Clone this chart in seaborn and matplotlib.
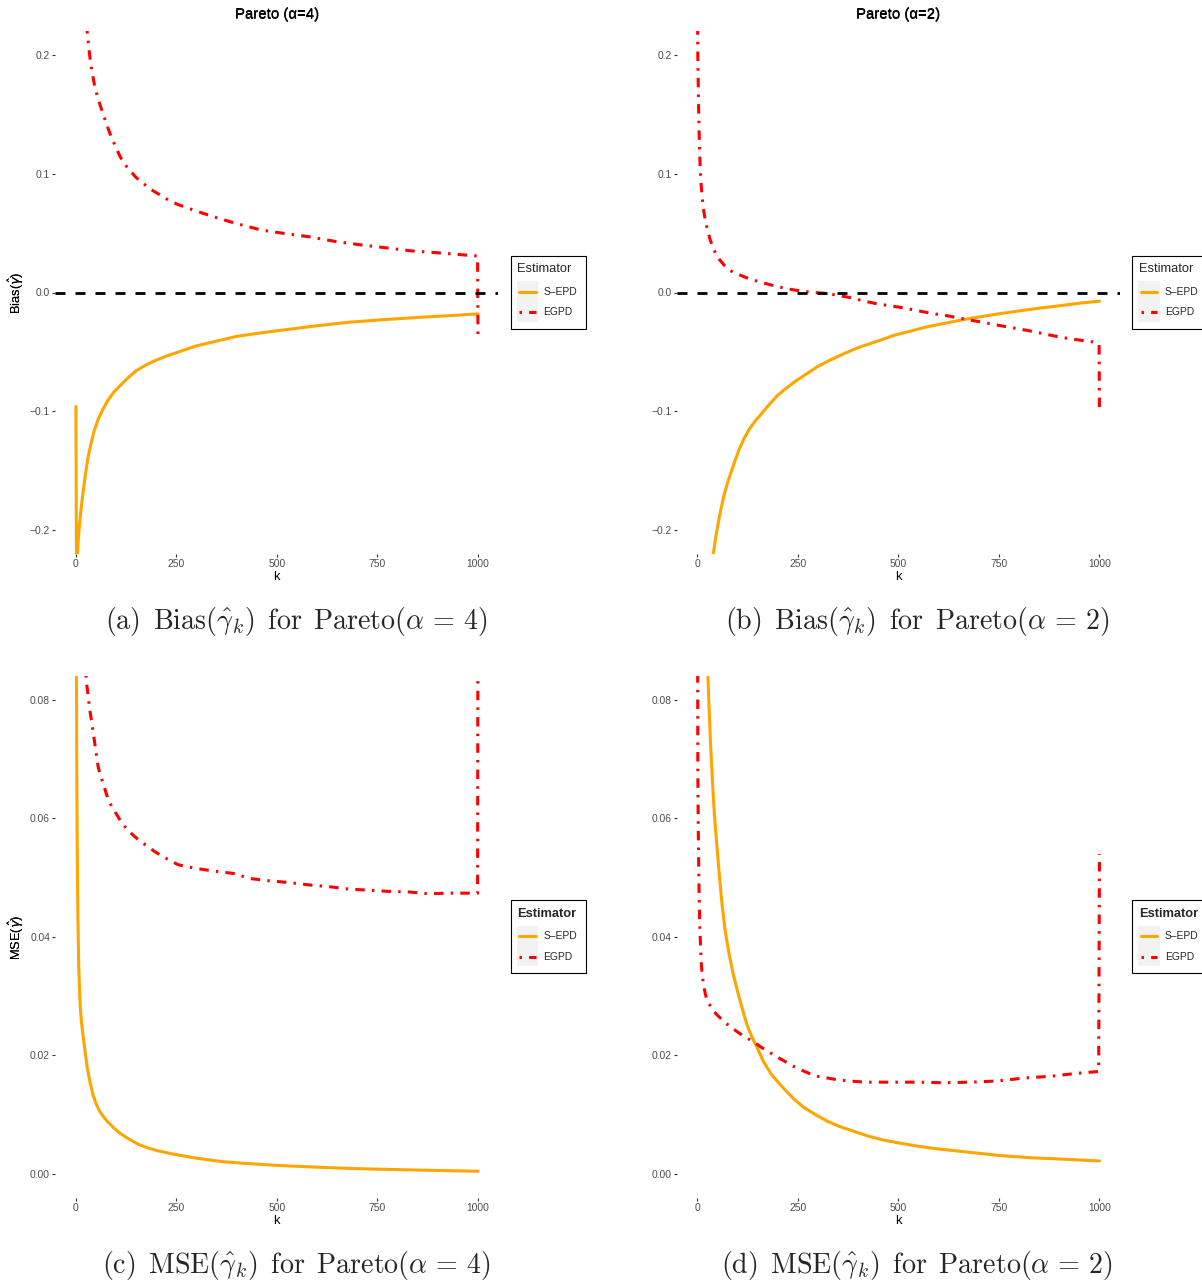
import numpy as np
import pandas as pd
import seaborn as sns
import matplotlib
matplotlib.use("Agg")
import matplotlib.pyplot as plt
from matplotlib.patches import Rectangle
from matplotlib.lines import Line2D

# ---------------- data ----------------
# Panel (a): Bias, Pareto(alpha=4)
k_a_sepd = [1, 2, 3, 4, 6, 8, 10, 13, 16, 20, 25, 31, 38, 46, 56, 67, 80, 95, 112, 130, 150, 175, 200, 230,
            265, 300, 350, 400, 460, 530, 600, 680, 760, 850, 930, 1000]
v_a_sepd = [-0.096, -0.200, -0.232, -0.226, -0.212, -0.203, -0.195, -0.185, -0.176, -0.165, -0.152, -0.139,
            -0.128, -0.117, -0.107, -0.099, -0.091, -0.084, -0.078, -0.072, -0.066, -0.061, -0.057, -0.053,
            -0.049, -0.045, -0.041, -0.037, -0.034, -0.031, -0.028, -0.025, -0.023, -0.021, -0.0195, -0.018]
k_a_egpd = [27, 29, 35, 40, 48, 58, 69, 80, 90, 110, 122, 135, 150, 168, 186, 206, 230, 255, 280, 305, 351,
            400, 463, 521, 579, 645, 711, 770, 836, 894, 952, 999, 1000]
v_a_egpd = [0.226, 0.219, 0.200, 0.188, 0.173, 0.161, 0.150, 0.139, 0.130, 0.115, 0.108, 0.103, 0.097, 0.092,
            0.087, 0.083, 0.078, 0.074, 0.071, 0.068, 0.063, 0.058, 0.0525, 0.0496, 0.047, 0.043, 0.040,
            0.0377, 0.035, 0.0336, 0.032, 0.0307, -0.0377]

# Panel (b): Bias, Pareto(alpha=2)
k_b_sepd = [30, 35, 40, 48, 56, 66, 76, 83, 95, 105, 116, 130, 145, 158, 175, 199, 220, 241, 270, 299, 330,
            365, 400, 448, 490, 531, 570, 614, 672, 739, 780, 822, 860, 905, 950, 1000]
v_b_sepd = [-0.26, -0.24, -0.221, -0.203, -0.188, -0.172, -0.160, -0.153, -0.141, -0.132, -0.1235, -0.115,
            -0.108, -0.103, -0.096, -0.087, -0.081, -0.0756, -0.069, -0.0625, -0.057, -0.0515, -0.0465, -0.041,
            -0.036, -0.0325, -0.029, -0.026, -0.0222, -0.0185, -0.0165, -0.0145, -0.0128, -0.011, -0.009,
            -0.0073]
k_b_egpd = [1, 2, 3, 4, 5, 6, 8, 10, 12, 14, 17, 20, 25, 33, 40, 46, 55, 70, 85, 108, 130, 158, 190, 216, 240,
            266, 295, 324, 352, 382, 415, 448, 480, 515, 548, 581, 620, 656, 700, 739, 780, 822, 865, 905, 945,
            983, 999, 1000]
v_b_egpd = [0.26, 0.20, 0.175, 0.155, 0.138, 0.125, 0.103, 0.092, 0.083, 0.076, 0.068, 0.062, 0.054, 0.044,
            0.038, 0.033, 0.028, 0.022, 0.018, 0.0145, 0.0115, 0.0087, 0.0058, 0.0038, 0.0022, 0.0009,
            -0.0001, -0.0009, -0.0025, -0.0044, -0.0072, -0.0096, -0.0112, -0.013, -0.0153, -0.0175, -0.0195,
            -0.0218, -0.0245, -0.027, -0.0295, -0.032, -0.035, -0.0378, -0.0398, -0.0416, -0.0436, -0.099]

# Panel (c): MSE, Pareto(alpha=4)
k_c_sepd = [1, 2, 3, 4, 5, 6, 8, 10, 12, 15, 19, 23, 29, 36, 44, 52, 60, 69, 80, 95, 110, 130, 156, 180, 205,
            240, 297, 363, 420, 488, 550, 612, 700, 778, 880, 1000]
v_c_sepd = [0.30, 0.10, 0.070, 0.057, 0.049, 0.043, 0.035, 0.031, 0.028, 0.0255, 0.0232, 0.0211, 0.018,
            0.0155, 0.0132, 0.0117, 0.0106, 0.0097, 0.0088, 0.0078, 0.0069, 0.0060, 0.0050, 0.0044, 0.0039,
            0.0034, 0.0027, 0.0021, 0.0018, 0.0015, 0.0013, 0.00112, 0.0009, 0.00078, 0.00062, 0.00047]
k_c_egpd = [24, 26, 28, 31, 35, 40, 48, 56, 62, 69, 75, 81, 90, 102, 112, 123, 135, 148, 160, 177, 195, 214,
            235, 255, 297, 347, 396, 430, 479, 529, 579, 629, 678, 728, 778, 828, 877, 927, 969, 999, 1000]
v_c_egpd = [0.087, 0.0842, 0.0825, 0.081, 0.0785, 0.0764, 0.0726, 0.0688, 0.0672, 0.0659, 0.0645, 0.0633,
            0.062, 0.0607, 0.0596, 0.0586, 0.0577, 0.0569, 0.0562, 0.0554, 0.0545, 0.0537, 0.0529, 0.0522,
            0.0516, 0.0511, 0.0507, 0.0499, 0.0495, 0.0492, 0.0488, 0.0485, 0.0481, 0.0479, 0.0477, 0.0476,
            0.0473, 0.0474, 0.0474, 0.0474, 0.10]

# Panel (d): MSE, Pareto(alpha=2)
k_d_sepd = [15, 22, 27, 30, 33, 37, 41, 45, 50, 56, 62, 70, 79, 89, 100, 112, 124, 136, 149, 165, 183, 200,
            216, 240, 266, 295, 324, 355, 390, 425, 465, 505, 548, 590, 631, 672, 714, 755, 797, 840, 880, 940,
            1000]
v_d_sepd = [0.15, 0.10, 0.0842, 0.0785, 0.0735, 0.068, 0.0630, 0.059, 0.0549, 0.050, 0.0456, 0.041, 0.0374,
            0.034, 0.0310, 0.028, 0.0252, 0.0232, 0.0214, 0.019, 0.0170, 0.0156, 0.0144, 0.0127, 0.0112,
            0.0100, 0.0089, 0.0080, 0.0072, 0.0064, 0.0057, 0.0052, 0.0047, 0.0043, 0.0040, 0.0037, 0.0034,
            0.0031, 0.0029, 0.0027, 0.0026, 0.0024, 0.0022]
k_d_egpd = [1, 2, 3, 4, 5, 7, 9, 11, 14, 17, 21, 25, 32, 41, 52, 66, 82, 100, 120, 141, 157, 174, 195, 216,
            236, 257, 278, 299, 324, 349, 380, 415, 481, 548, 614, 680, 747, 813, 880, 946, 998, 1000]
v_d_egpd = [0.12, 0.0677, 0.059, 0.0531, 0.048, 0.0415, 0.038, 0.0351, 0.033, 0.0316, 0.0303, 0.0293,
            0.0285, 0.0275, 0.0267, 0.0258, 0.0249, 0.0240, 0.0231, 0.0223, 0.0215, 0.0208, 0.0199, 0.0191,
            0.0183, 0.0176, 0.0170, 0.0165, 0.0162, 0.0159, 0.0157, 0.0155, 0.0155, 0.0155, 0.0154, 0.0155,
            0.0157, 0.0162, 0.0165, 0.0170, 0.0173, 0.054]

estimators = ["S\u2013EPD", "EGPD"]
titles = ["Pareto (\u03b1=4)", "Pareto (\u03b1=2)", "Pareto (\u03b1=4)", "Pareto (\u03b1=2)"]
ylabels = [r"Bias($\hat{\gamma}$)", r"Bias($\hat{\gamma}$)", r"MSE($\hat{\gamma}$)", r"MSE($\hat{\gamma}$)"]
captions = [r"$\mathrm{(a)\ \,Bias}(\hat{\gamma}_k)\ \,\mathrm{for\ \,Pareto}(\alpha\,=\,4)$",
            r"$\mathrm{(b)\ \,Bias}(\hat{\gamma}_k)\ \,\mathrm{for\ \,Pareto}(\alpha\,=\,2)$",
            r"$\mathrm{(c)\ \,MSE}(\hat{\gamma}_k)\ \,\mathrm{for\ \,Pareto}(\alpha\,=\,4)$",
            r"$\mathrm{(d)\ \,MSE}(\hat{\gamma}_k)\ \,\mathrm{for\ \,Pareto}(\alpha\,=\,2)$"]
x_ticks = [0, 250, 500, 750, 1000]
bias_ticks = [-0.2, -0.1, 0.0, 0.1, 0.2]
bias_ticklabels = ["\u22120.2", "\u22120.1", "0.0", "0.1", "0.2"]
mse_ticks = [0.00, 0.02, 0.04, 0.06, 0.08]
mse_ticklabels = ["0.00", "0.02", "0.04", "0.06", "0.08"]

series = [
    (k_a_sepd, v_a_sepd, k_a_egpd, v_a_egpd),
    (k_b_sepd, v_b_sepd, k_b_egpd, v_b_egpd),
    (k_c_sepd, v_c_sepd, k_c_egpd, v_c_egpd),
    (k_d_sepd, v_d_sepd, k_d_egpd, v_d_egpd),
]

# ---------------- styling ----------------
sns.set_theme(style="white")
plt.rcParams["font.family"] = ["Liberation Sans", "DejaVu Sans"]
plt.rcParams["font.weight"] = "normal"
plt.rcParams["axes.unicode_minus"] = True

ORANGE = "#FFA500"
RED = "#FF0000"
LW = 2.2
RED_DASH = (0, (3.1, 2.35, 0.8, 2.35))

W, H = 1202, 1284
fig = plt.figure(figsize=(W / 100, H / 100), dpi=100)
fig.patch.set_facecolor("white")


def px_axes(left, top, width, height):
    return fig.add_axes([left / W, 1 - (top + height) / H, width / W, height / H])


lefts = [55.4, 676.9, 55.4, 676.9]
tops = [31.25, 31.25, 676.3, 676.3]
heights = [522.5, 522.5, 521.4, 521.4]
xlabel_y = [577.5, 577.5, 1221.5, 1221.5]
AXW = 442.7
cap_x = [296.5, 917.0, 296.5, 917.0]
cap_y = [622.5, 622.5, 1266.5, 1266.5]


def draw_legend(L, T, bold):
    def fx(x):
        return x / W

    def fy(y):
        return 1 - y / H
    fig.patches.append(Rectangle((fx(L), fy(T + 73)), 75.3 / W, 73 / H, transform=fig.transFigure,
                                 facecolor="white", edgecolor="black", lw=0.8, zorder=5))
    fig.patches.append(Rectangle((fx(L + 6), fy(T + 66)), 21.6 / W, 40.7 / H, transform=fig.transFigure,
                                 facecolor="#F2F2F2", edgecolor="none", zorder=6))
    fig.text(fx(L + 6.6), fy(T + 13.5), "Estimator", fontsize=9.25, ha="left", va="center",
             fontweight="bold" if bold else "normal", zorder=7)
    fig.lines.append(Line2D([fx(L + 8.3), fx(L + 25)], [fy(T + 36), fy(T + 36)], transform=fig.transFigure,
                            color=ORANGE, lw=LW, zorder=7))
    fig.lines.append(Line2D([fx(L + 8.3), fx(L + 25)], [fy(T + 56.3), fy(T + 56.3)], transform=fig.transFigure,
                            color=RED, lw=LW, linestyle=(0, (0.8, 2.35, 3.1, 2.35)), zorder=7))
    fig.text(fx(L + 32.6), fy(T + 36), estimators[0], fontsize=7.4, ha="left", va="center", zorder=7)
    fig.text(fx(L + 32.6), fy(T + 56.3), estimators[1], fontsize=7.4, ha="left", va="center", zorder=7)


for i in range(4):
    ax = px_axes(lefts[i], tops[i], AXW, heights[i])
    ax.set_facecolor("white")
    ks, vs, ke, ve = series[i]
    df_s = pd.DataFrame({"k": ks, "value": vs, "Estimator": estimators[0]})
    df_e = pd.DataFrame({"k": ke, "value": ve, "Estimator": estimators[1]})
    sns.lineplot(data=df_s, x="k", y="value", ax=ax, color=ORANGE, lw=LW, estimator=None, legend=False)
    sns.lineplot(data=df_e, x="k", y="value", ax=ax, color=RED, lw=LW, estimator=None, legend=False,
                 linestyle=RED_DASH)
    if i < 2:
        ax.axhline(0, color="black", lw=2.0, linestyle=(0, (3.6, 3.6)), zorder=3)
        ax.set_ylim(-0.22, 0.22)
        ax.set_yticks(bias_ticks)
        ax.set_yticklabels(bias_ticklabels)
    else:
        ax.set_ylim(-0.004, 0.084)
        ax.set_yticks(mse_ticks)
        ax.set_yticklabels(mse_ticklabels)
    ax.set_xlim(-50, 1050)
    ax.set_xticks(x_ticks)
    ax.set_xticklabels([str(t) for t in x_ticks])
    for s in ax.spines.values():
        s.set_visible(False)
    ax.tick_params(axis="both", which="major", bottom=True, left=True, length=2.3, width=0.8,
                   color="#333333", labelcolor="#4D4D4D", labelsize=7.4, pad=1.5)
    ax.set_xlabel("k", fontsize=9.25, color="black", fontweight="normal")
    ax.xaxis.label.set_va("center")
    ax.xaxis.set_label_coords(0.5, -(xlabel_y[i] - tops[i] - heights[i]) / heights[i])
    ax.set_ylabel(ylabels[i], fontsize=9.25, color="black", fontweight="normal")
    ax.yaxis.label.set_va("center")
    ax.yaxis.set_label_coords((16.5 - lefts[i]) / AXW, 0.5)
    ax.text(0.5, 1 + (tops[i] - 14.5) / heights[i], titles[i], transform=ax.transAxes,
            ha="center", va="center", fontsize=10.8, color="black", fontweight="normal")
    fig.text(cap_x[i] / W, 1 - cap_y[i] / H, captions[i], math_fontfamily="cm", fontsize=20.2,
             ha="center", va="center")

draw_legend(510.7, 255.7, False)
draw_legend(1132.2, 255.7, False)
draw_legend(510.7, 900.2, True)
draw_legend(1132.2, 900.2, True)

fig.savefig("out.png", dpi=100, facecolor="white")
